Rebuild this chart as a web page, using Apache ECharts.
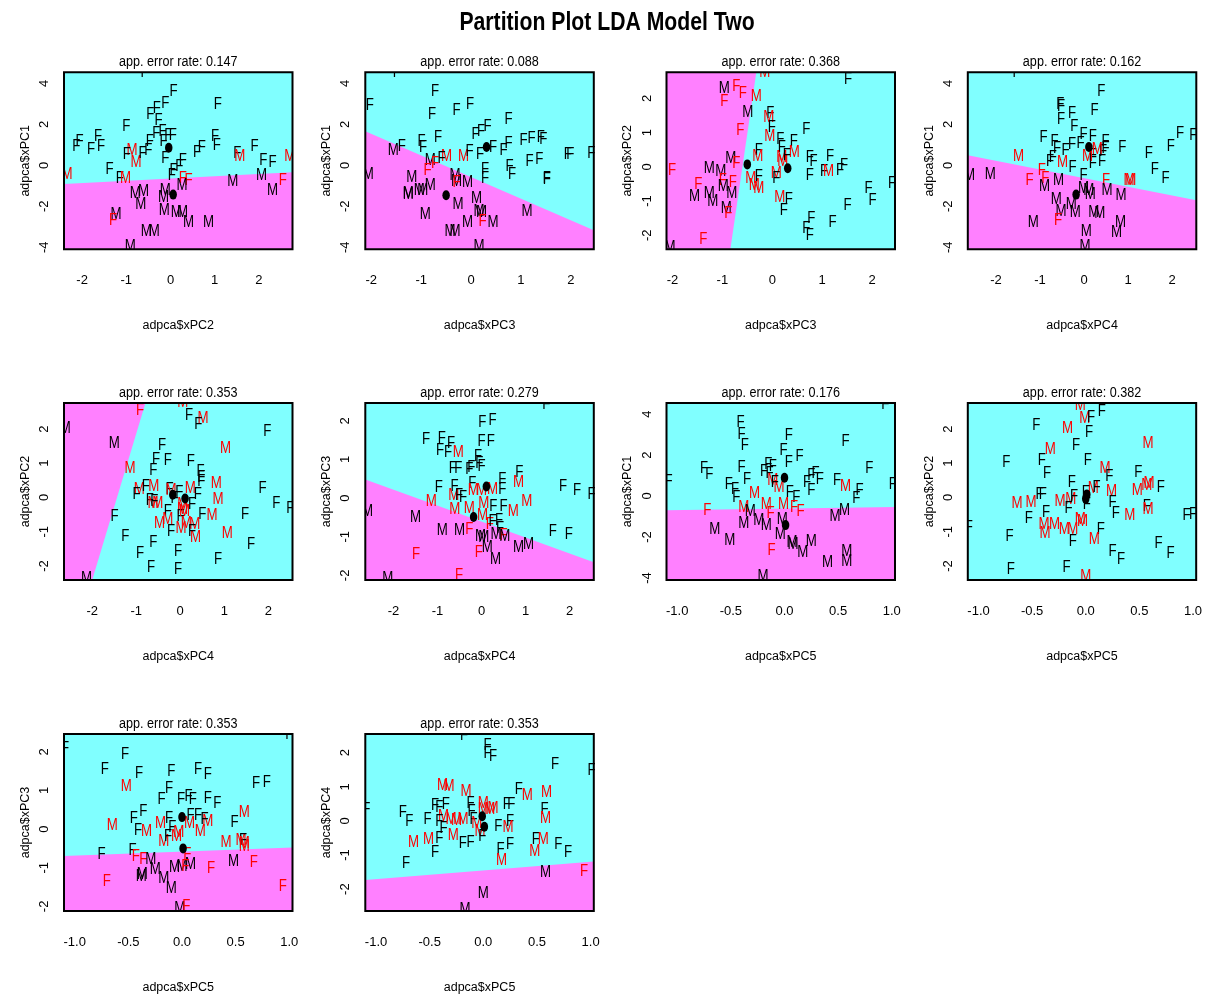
<!DOCTYPE html>
<html><head><meta charset="utf-8">
<script src="https://cdn.jsdelivr.net/npm/echarts@6/dist/echarts.min.js"></script>
<style>html,body{margin:0;padding:0;background:#fff}#c{width:1205px;height:998px}</style>
</head><body><div id="c"></div>
<script>
// ---------------- DATA ----------------
const mainTitle = 'Partition Plot LDA Model Two';
const panelX = ['PC2','PC3','PC3','PC4','PC4','PC4','PC5','PC5','PC5','PC5'];
const panelY = ['PC1','PC1','PC2','PC1','PC2','PC3','PC1','PC2','PC3','PC4'];
const errorRates = ['0.147','0.088','0.368','0.162','0.353','0.279','0.176','0.382','0.353','0.353'];
const rangePC1 = [-4.10, 4.54];
const rangePC2 = [-2.41, 2.76];
const rangePC3 = [-2.12, 2.46];
const rangePC4 = [-2.64, 2.55];
const rangePC5 = [-1.10, 1.03];
const ticksPC1 = [-4, -2, 0, 2, 4];
const ticksPC2 = [-2, -1, 0, 1, 2];
const ticksPC3 = [-2, -1, 0, 1, 2];
const ticksPC4 = [-2, -1, 0, 1, 2];
const ticksPC5 = [-1, -0.5, 0, 0.5, 1];

// magenta (group M) regions of each partition, in data units; cyan elsewhere
const magenta1 = [[-2.41,-0.91],[2.76,-0.34],[2.76,-4.10],[-2.41,-4.10]];
const magenta2 = [[-2.12,1.66],[2.46,-3.17],[2.46,-4.10],[-2.12,-4.10]];
const magenta3 = [[-2.12,2.76],[-0.32,2.76],[-0.84,-2.41],[-2.12,-2.41]];
const magenta4 = [[-2.64,0.49],[2.55,-1.71],[2.55,-4.10],[-2.64,-4.10]];
const magenta5 = [[-2.64,2.76],[-0.79,2.76],[-2.00,-2.41],[-2.64,-2.41]];
const magenta6 = [[-2.64,0.48],[2.55,-1.66],[2.55,-2.12],[-2.64,-2.12]];
const magenta7 = [[-1.10,-0.70],[1.03,-0.54],[1.03,-4.10],[-1.10,-4.10]];
const magenta8 = [];
const magenta9 = [[-1.10,-0.70],[1.03,-0.48],[1.03,-2.12],[-1.10,-2.12]];
const magenta10 = [[-1.10,-1.73],[1.03,-1.19],[1.03,-2.63],[-1.10,-2.63]];

// group means [F, M]
const means1 = [[-0.04,0.86],[0.06,-1.43]];
const means2 = [[0.31,0.89],[-0.50,-1.46]];
const means3 = [[0.31,-0.04],[-0.50,0.07]];
const means4 = [[0.11,0.89],[-0.18,-1.43]];
const means5 = [[0.11,-0.03],[-0.17,0.08]];
const means6 = [[0.11,0.30],[-0.18,-0.49]];
const means7 = [[0.00,0.89],[0.01,-1.42]];
const means8 = [[0.00,-0.04],[0.01,0.09]];
const means9 = [[0.00,0.31],[0.01,-0.50]];
const means10 = [[-0.01,0.14],[0.01,-0.17]];

// points: [x, y, sex, misclassified]
const pts1 = [[-0.59,4.54,'F',0],[0.07,3.58,'F',0],[1.07,2.98,'F',0],[-0.12,3.00,'F',0],[-0.31,2.76,'F',0],[-0.46,2.49,'F',0],[-0.27,2.20,'F',0],[-1.00,1.90,'F',0],[-0.32,1.54,'F',0],[-0.18,1.63,'F',0],[-0.05,1.46,'F',0],[0.05,1.46,'F',0],[-0.16,1.14,'F',0],[-1.64,1.41,'F',0],[-2.06,1.14,'F',0],[-2.13,0.89,'F',0],[-1.80,0.78,'F',0],[-1.57,0.93,'F',0],[-0.87,0.73,'M',1],[-0.78,0.13,'M',1],[-0.99,0.52,'F',0],[-0.63,0.57,'F',0],[-0.50,0.73,'F',0],[-0.47,1.14,'F',0],[-0.12,0.33,'F',0],[0.28,0.21,'F',0],[0.20,-0.05,'F',0],[0.07,-0.24,'F',0],[0.03,-0.49,'F',0],[0.60,0.60,'F',0],[0.71,0.86,'F',0],[1.01,1.38,'F',0],[1.05,0.98,'F',0],[1.90,0.89,'F',0],[1.51,0.57,'F',0],[1.57,0.41,'M',1],[2.10,0.24,'F',0],[2.31,0.11,'F',0],[2.70,0.41,'M',1],[-2.34,-0.44,'M',1],[-1.38,-0.21,'F',0],[-1.15,-0.65,'F',0],[-1.02,-0.65,'M',1],[0.28,-0.65,'F',1],[0.41,-0.76,'F',1],[0.26,-0.98,'M',0],[1.41,-0.81,'M',0],[2.06,-0.49,'M',0],[2.54,-0.73,'F',1],[2.31,-1.25,'M',0],[-0.80,-1.38,'M',0],[-0.61,-1.30,'M',0],[-0.67,-1.90,'M',0],[-0.12,-1.22,'M',0],[-0.16,-1.59,'M',0],[-0.14,-2.20,'M',0],[0.13,-2.33,'M',0],[0.27,-2.33,'M',0],[0.41,-2.81,'M',0],[0.86,-2.81,'M',0],[-1.23,-2.39,'M',0],[-1.30,-2.72,'F',1],[-0.55,-3.25,'M',0],[-0.37,-3.25,'M',0],[-0.91,-3.98,'M',0]];
const pts2 = [[-1.49,4.54,'F',0],[-0.72,3.58,'F',0],[-0.02,2.98,'F',0],[-2.03,2.93,'F',0],[-0.78,2.47,'F',0],[-0.29,2.68,'F',0],[0.75,2.24,'F',0],[0.33,1.90,'F',0],[0.20,1.66,'F',0],[0.09,1.50,'F',0],[-0.66,1.33,'F',0],[-0.99,1.14,'F',0],[-0.96,0.85,'F',0],[-1.56,0.73,'M',0],[-1.39,0.93,'F',0],[-0.49,0.41,'M',1],[-0.15,0.44,'M',1],[-0.03,0.65,'F',0],[0.18,0.54,'F',0],[0.44,0.86,'F',0],[0.65,0.73,'F',0],[0.75,1.06,'F',0],[1.05,1.19,'F',0],[1.21,1.30,'F',0],[1.40,1.35,'F',0],[1.45,1.25,'F',0],[1.17,0.16,'F',0],[1.37,0.28,'F',0],[1.94,0.52,'F',0],[1.99,0.52,'F',0],[2.41,0.57,'F',0],[1.52,-0.70,'F',0],[1.52,-0.66,'F',0],[0.28,-0.21,'F',0],[0.28,-0.65,'F',0],[0.77,-0.08,'F',0],[0.82,-0.44,'F',0],[-0.82,0.24,'M',0],[-0.72,0.08,'F',1],[-0.87,-0.24,'F',1],[-0.59,0.33,'F',0],[-2.06,-0.44,'M',0],[-1.19,-0.62,'M',0],[-1.04,-1.22,'M',0],[-0.97,-1.22,'M',0],[-0.82,-0.98,'M',0],[-1.26,-1.41,'M',0],[-1.26,-1.36,'M',0],[-0.32,-0.49,'M',0],[-0.29,-0.81,'M',0],[-0.29,-0.86,'F',1],[-0.07,-0.86,'M',0],[0.11,-1.63,'M',0],[-0.26,-1.90,'M',0],[-0.92,-2.39,'M',0],[0.16,-2.28,'M',0],[0.21,-2.33,'M',0],[0.23,-2.76,'F',1],[0.44,-2.81,'M',0],[-0.07,-2.81,'M',0],[-0.42,-3.25,'M',0],[-0.32,-3.25,'M',0],[0.16,-3.95,'M',0],[1.12,-2.24,'M',0]];
const pts3 = [[-0.15,2.76,'M',1],[1.52,2.56,'F',0],[-0.96,2.29,'M',0],[-0.72,2.34,'F',1],[-0.59,2.15,'F',1],[-0.96,1.90,'F',1],[-0.32,2.06,'M',1],[-0.49,1.57,'M',0],[-0.04,1.56,'F',0],[-0.07,1.43,'M',1],[-0.01,1.14,'F',0],[-0.05,0.88,'M',1],[-0.64,1.06,'F',1],[0.68,1.09,'F',0],[0.16,0.79,'F',0],[0.19,0.57,'F',0],[0.43,0.75,'F',0],[-0.27,0.46,'F',0],[-0.29,0.30,'M',1],[0.19,0.28,'M',1],[0.44,0.41,'M',1],[0.21,0.14,'M',1],[0.29,0.33,'F',0],[-0.83,0.25,'M',0],[-0.72,0.09,'F',1],[-1.26,-0.06,'M',0],[-1.03,-0.13,'M',0],[-2.01,-0.11,'F',1],[-1.48,-0.51,'F',1],[-0.99,-0.40,'F',1],[-0.79,-0.45,'F',1],[-0.98,-0.57,'M',0],[-0.81,-0.79,'M',0],[-1.26,-0.79,'M',0],[-1.56,-0.88,'M',0],[-1.19,-1.03,'M',0],[-0.92,-1.22,'M',0],[-0.88,-1.37,'F',1],[-1.38,-2.13,'F',1],[-2.05,-2.36,'M',0],[0.75,0.26,'F',0],[0.83,0.14,'F',0],[1.16,0.30,'F',0],[1.04,-0.13,'F',0],[1.13,-0.13,'M',1],[1.36,-0.11,'F',0],[1.44,0.04,'F',0],[0.75,-0.25,'F',0],[2.40,-0.50,'F',0],[1.93,-0.64,'F',0],[2.01,-0.98,'F',0],[1.51,-1.13,'F',0],[0.33,-0.95,'F',0],[0.15,-0.91,'M',1],[0.23,-1.29,'F',0],[0.78,-1.51,'F',0],[0.68,-1.81,'F',0],[0.75,-2.00,'F',0],[1.21,-1.64,'F',0],[-0.43,-0.35,'M',1],[-0.36,-0.54,'M',1],[-0.27,-0.64,'M',1],[0.08,-0.20,'M',1],[0.08,-0.35,'F',0],[-0.27,-0.30,'F',0]];
const pts4 = [[-1.53,4.54,'F',0],[0.39,3.58,'F',0],[-0.54,2.96,'F',0],[-0.52,2.85,'F',0],[0.24,2.68,'F',0],[-0.27,2.52,'F',0],[-0.52,2.24,'F',0],[-0.22,1.90,'F',0],[-0.92,1.35,'F',0],[-0.01,1.50,'F',0],[0.20,1.41,'F',0],[-0.67,1.14,'F',0],[-0.27,1.01,'F',0],[-0.08,1.06,'F',0],[-0.61,0.81,'F',0],[-0.42,0.73,'F',0],[0.49,1.14,'F',0],[0.49,0.81,'F',0],[0.43,0.65,'F',0],[0.87,0.86,'F',0],[0.20,0.49,'F',0],[0.41,0.16,'F',0],[0.20,0.08,'F',0],[0.30,0.78,'M',1],[0.08,0.44,'M',1],[-1.49,0.41,'M',1],[-0.49,0.11,'M',1],[-0.71,0.37,'F',0],[-0.77,0.16,'F',0],[-0.26,-0.11,'F',0],[-0.01,-0.49,'F',0],[1.47,0.57,'F',0],[1.61,-0.21,'F',0],[1.85,-0.65,'F',0],[1.97,0.93,'F',0],[2.18,1.54,'F',0],[2.48,1.46,'F',0],[-2.60,-0.49,'M',0],[-2.13,-0.44,'M',0],[-1.24,-0.76,'F',1],[-0.96,-0.24,'F',1],[-0.88,-0.65,'F',1],[-0.90,-1.06,'M',0],[-0.58,-0.76,'M',0],[0.50,-0.76,'F',1],[1.02,-0.76,'M',1],[1.06,-0.73,'M',1],[0.52,-1.25,'M',0],[0.84,-1.46,'M',0],[-0.01,-1.14,'M',0],[0.11,-1.22,'M',0],[0.14,-1.41,'M',0],[-0.63,-1.66,'M',0],[-0.29,-1.90,'M',0],[-0.52,-2.28,'M',0],[-0.20,-2.33,'M',0],[0.22,-2.33,'M',0],[0.36,-2.36,'M',0],[-0.59,-2.72,'F',1],[-1.15,-2.81,'M',0],[0.05,-3.25,'M',0],[0.83,-2.81,'M',0],[0.74,-3.30,'M',0],[0.02,-3.95,'M',0]];
const pts5 = [[0.06,2.76,'M',1],[-0.91,2.53,'F',1],[0.20,2.38,'F',0],[0.52,2.31,'M',1],[0.41,2.12,'F',0],[-2.61,2.02,'M',0],[1.98,1.92,'F',0],[-1.50,1.58,'M',0],[-0.41,1.53,'F',0],[1.03,1.44,'M',1],[-0.55,1.11,'F',0],[-0.28,1.08,'F',0],[0.24,1.05,'F',0],[-1.14,0.85,'M',1],[-0.61,0.79,'F',0],[0.46,0.76,'F',0],[0.48,0.59,'F',0],[0.48,0.47,'F',0],[0.82,0.40,'M',1],[0.86,-0.05,'M',1],[1.87,0.27,'F',0],[2.18,-0.19,'F',0],[2.50,-0.31,'F',0],[1.47,-0.50,'F',0],[0.72,-0.53,'M',1],[0.50,-0.49,'F',0],[1.07,-1.04,'M',1],[1.61,-1.38,'F',0],[0.86,-1.80,'F',0],[-0.05,-1.57,'F',0],[-0.05,-2.11,'F',0],[-0.66,-2.06,'F',0],[-0.91,-1.64,'F',0],[-0.61,-1.31,'F',0],[-1.25,-1.14,'F',0],[-1.49,-0.55,'F',0],[-2.13,-2.38,'M',0],[-0.93,0.22,'M',1],[-0.99,0.08,'F',0],[-0.78,0.32,'F',0],[-0.60,0.32,'M',1],[-0.69,-0.09,'F',0],[-0.62,-0.17,'M',1],[-0.51,-0.17,'M',1],[-0.24,0.22,'F',0],[-0.21,0.20,'M',1],[-0.02,0.15,'F',0],[-0.13,-0.02,'F',0],[0.23,0.27,'M',1],[0.40,0.08,'F',0],[0.27,-0.21,'F',0],[0.06,-0.21,'M',1],[0.05,-0.36,'M',1],[-0.28,-0.41,'F',0],[-0.47,-0.75,'M',1],[-0.28,-0.65,'M',1],[0.01,-0.55,'F',0],[0.02,-0.92,'M',1],[0.14,-0.75,'M',1],[0.33,-0.80,'M',1],[0.35,-1.18,'M',1],[-0.21,-0.99,'F',0],[0.27,-0.99,'F',0],[-0.59,-0.12,'F',0],[0.10,-0.41,'M',1]];
const pts6 = [[1.47,2.42,'F',0],[0.02,1.95,'F',0],[0.25,2.00,'F',0],[-1.26,1.51,'F',0],[-0.90,1.54,'F',0],[-0.69,1.41,'F',0],[-0.94,1.22,'F',0],[-0.76,1.17,'F',0],[-0.53,1.17,'M',1],[0.00,1.45,'F',0],[0.21,1.45,'F',0],[-0.08,1.08,'F',0],[-0.05,0.89,'F',0],[-0.65,0.76,'F',0],[-0.53,0.76,'F',0],[-0.28,0.73,'F',0],[-0.23,0.79,'F',0],[0.00,0.82,'F',0],[0.86,0.67,'F',0],[0.84,0.41,'M',1],[-0.97,0.27,'F',0],[-0.61,0.29,'F',0],[-0.63,0.07,'M',1],[-0.51,0.07,'F',0],[-0.42,0.01,'F',0],[-0.21,0.37,'F',0],[-0.19,0.20,'M',1],[0.00,0.20,'M',1],[0.25,0.22,'M',1],[0.47,0.48,'F',0],[0.47,0.22,'F',0],[1.03,-0.08,'M',1],[-1.14,-0.08,'M',1],[-0.61,-0.30,'M',1],[-0.28,-0.28,'M',1],[0.05,-0.15,'M',1],[0.27,-0.23,'F',0],[0.50,-0.22,'F',0],[0.72,-0.34,'M',1],[0.02,-0.45,'M',1],[-0.28,-0.81,'F',1],[0.19,-0.68,'F',1],[0.25,-0.62,'F',0],[0.40,-0.58,'F',0],[0.42,-0.79,'F',0],[0.50,-0.97,'F',1],[0.53,-0.99,'M',0],[0.33,-0.94,'M',0],[-0.02,-0.99,'M',0],[0.05,-1.01,'M',0],[0.13,-1.27,'M',0],[-0.06,-1.40,'F',1],[0.32,-1.59,'M',0],[0.84,-1.27,'M',0],[1.07,-1.20,'M',0],[1.62,-0.88,'F',0],[1.98,-0.94,'F',0],[1.85,0.29,'F',0],[2.17,0.20,'F',0],[2.50,0.09,'F',0],[-2.59,-0.36,'M',0],[-1.50,-0.51,'M',0],[-0.89,-0.84,'M',0],[-0.50,-0.84,'M',0],[-1.49,-1.46,'F',1],[-0.51,-2.00,'F',1],[-2.13,-2.09,'M',0]];
const pts7 = [[0.94,4.45,'F',0],[-0.41,3.58,'F',0],[-0.40,3.00,'F',0],[-0.37,2.47,'F',0],[0.04,2.96,'F',0],[0.57,2.65,'F',0],[-0.01,2.24,'F',0],[0.14,1.92,'F',0],[0.04,1.63,'F',0],[-0.15,1.54,'F',0],[-0.11,1.43,'F',0],[-0.40,1.38,'F',0],[-0.75,1.33,'F',0],[-0.70,1.06,'F',0],[-0.19,1.17,'F',0],[-0.14,1.11,'F',0],[-0.35,0.78,'F',0],[-0.11,0.73,'M',1],[-0.05,0.41,'M',1],[-0.09,0.65,'F',0],[-0.52,0.57,'F',0],[-0.46,0.33,'F',0],[-0.45,-0.08,'F',0],[-0.28,0.13,'M',1],[0.05,0.16,'F',0],[0.11,-0.08,'F',0],[0.25,0.98,'F',0],[0.29,1.09,'F',0],[0.33,0.78,'F',0],[0.21,0.65,'F',0],[0.25,0.24,'F',0],[0.49,0.73,'F',0],[0.57,0.46,'M',1],[0.70,0.24,'F',0],[0.67,-0.13,'F',0],[0.79,1.33,'F',0],[1.01,0.57,'F',0],[-1.08,0.68,'F',0],[-0.72,-0.73,'F',1],[-0.38,-0.57,'M',1],[-0.32,-0.78,'M',0],[-0.17,-0.41,'M',1],[-0.13,-0.85,'F',1],[-0.01,-0.41,'M',1],[0.09,-0.57,'F',1],[0.15,-0.78,'F',1],[-0.38,-1.33,'M',0],[-0.24,-1.22,'M',0],[-0.17,-1.46,'M',0],[-0.02,-1.14,'M',0],[-0.04,-1.87,'M',0],[-0.65,-1.63,'M',0],[-0.51,-2.20,'M',0],[0.07,-2.28,'M',0],[0.08,-2.36,'M',0],[0.17,-2.76,'M',0],[0.25,-2.24,'M',0],[0.47,-1.01,'M',0],[0.56,-0.73,'M',0],[0.40,-3.25,'M',0],[0.58,-2.73,'M',0],[0.58,-3.22,'M',0],[-0.12,-2.68,'F',1],[-0.20,-3.95,'M',0]];
const pts8 = [[-0.05,2.67,'M',1],[0.15,2.50,'F',0],[-0.01,2.31,'M',1],[0.05,2.34,'F',0],[-0.46,2.09,'F',0],[-0.17,2.02,'M',1],[0.03,1.90,'F',0],[-0.33,1.41,'M',1],[-0.09,1.51,'F',0],[-0.74,1.02,'F',0],[-0.41,1.08,'F',0],[0.02,1.07,'F',0],[-0.36,0.69,'F',0],[0.18,0.85,'M',1],[0.22,0.61,'F',0],[0.58,1.58,'M',1],[0.49,0.73,'F',0],[0.48,0.20,'M',1],[0.57,0.34,'M',1],[0.59,0.40,'M',1],[0.70,0.29,'F',0],[0.24,0.17,'M',1],[-0.13,0.44,'F',0],[-0.43,0.08,'F',0],[-0.40,0.08,'F',0],[-0.64,-0.18,'M',1],[-0.51,-0.15,'M',1],[-0.24,-0.12,'M',1],[-0.14,-0.07,'M',1],[-0.11,0.03,'F',0],[-0.16,-0.31,'F',0],[0.07,0.27,'M',1],[0.10,0.30,'F',0],[0.25,-0.15,'F',0],[0.28,-0.48,'F',0],[0.41,-0.54,'M',1],[0.57,-0.26,'F',0],[0.58,-0.36,'M',1],[0.94,-0.54,'F',0],[1.00,-0.49,'F',0],[-1.09,-0.89,'F',0],[-0.53,-0.63,'F',0],[-0.37,-0.44,'F',0],[-0.39,-0.80,'M',1],[-0.29,-0.80,'M',1],[-0.38,-1.04,'M',1],[-0.20,-0.94,'M',1],[-0.12,-0.94,'M',1],[-0.05,-0.65,'M',1],[-0.03,-0.70,'M',1],[0.14,-0.94,'F',0],[0.08,-1.22,'M',1],[-0.12,-1.30,'F',0],[-0.71,-1.13,'F',0],[0.25,-1.57,'F',0],[0.33,-1.80,'F',0],[0.68,-1.36,'F',0],[0.79,-1.64,'F',0],[-0.70,-2.12,'F',0],[-0.18,-2.06,'F',0],[0.00,-2.30,'M',1],[0.01,-0.20,'F',0],[0.00,0.15,'F',0]];
const pts9 = [[1.00,2.44,'F',0],[-1.09,2.09,'F',0],[-0.53,1.94,'F',0],[-0.72,1.53,'F',0],[-0.40,1.43,'F',0],[-0.10,1.49,'F',0],[0.15,1.53,'F',0],[0.24,1.40,'F',0],[0.69,1.18,'F',0],[0.79,1.20,'F',0],[-0.52,1.11,'M',1],[-0.12,1.05,'F',0],[-0.19,0.77,'F',0],[-0.01,0.75,'F',0],[0.06,0.85,'F',0],[0.10,0.77,'F',0],[0.24,0.79,'F',0],[0.33,0.67,'F',0],[-0.65,0.10,'M',1],[-0.45,0.28,'F',0],[-0.36,0.45,'F',0],[-0.41,-0.03,'F',0],[-0.33,-0.07,'M',1],[-0.20,0.13,'M',1],[-0.12,0.28,'F',0],[-0.09,0.04,'F',0],[-0.05,-0.20,'M',1],[-0.17,-0.33,'M',1],[-0.13,-0.20,'F',0],[0.07,0.15,'M',1],[0.08,0.34,'F',0],[0.15,0.36,'F',0],[0.17,-0.07,'M',1],[0.24,0.19,'M',1],[0.21,0.25,'F',0],[0.58,0.42,'M',1],[0.49,0.16,'F',0],[0.41,-0.35,'M',1],[0.55,-0.29,'M',1],[0.58,-0.46,'M',1],[0.57,-0.29,'F',0],[-0.75,-0.65,'F',0],[-0.46,-0.56,'F',0],[-0.43,-0.72,'F',1],[-0.36,-0.80,'F',1],[-0.29,-0.80,'M',0],[-0.25,-1.05,'M',0],[0.05,-0.67,'F',1],[-0.07,-0.99,'M',0],[0.00,-0.96,'M',0],[0.08,-0.91,'M',0],[0.03,-0.98,'F',1],[0.27,-1.02,'F',1],[0.48,-0.85,'M',0],[0.67,-0.87,'F',1],[-0.38,-1.22,'M',0],[-0.37,-1.19,'M',0],[-0.17,-1.28,'M',0],[-0.10,-1.54,'M',0],[-0.70,-1.37,'F',1],[0.94,-1.48,'F',1],[-0.02,-2.06,'M',0],[0.04,-2.01,'F',1],[-0.03,-0.10,'M',1],[0.58,-0.37,'M',1]];
const pts10 = [[-0.18,2.49,'F',0],[0.04,2.22,'F',0],[0.04,1.98,'F',0],[0.09,1.88,'F',0],[0.67,1.64,'F',0],[1.01,1.49,'F',0],[-0.38,1.05,'M',1],[-0.32,1.02,'M',1],[-0.16,0.86,'M',1],[0.33,0.91,'F',0],[0.41,0.73,'M',1],[0.59,0.83,'M',1],[-1.09,0.34,'F',0],[-0.75,0.24,'F',0],[-0.69,-0.02,'F',0],[-0.52,0.05,'F',0],[-0.45,0.44,'F',0],[-0.41,0.40,'F',0],[-0.35,0.47,'F',0],[-0.37,0.13,'M',1],[-0.41,-0.02,'F',0],[-0.37,-0.21,'F',0],[-0.25,0.01,'M',1],[-0.19,0.03,'M',1],[-0.12,0.52,'F',0],[-0.11,0.27,'F',0],[0.00,0.52,'M',1],[0.06,0.34,'M',1],[0.09,0.37,'M',1],[-0.09,0.03,'F',0],[-0.06,-0.07,'M',1],[-0.03,-0.31,'M',1],[-0.01,-0.46,'F',0],[0.14,-0.17,'F',0],[0.22,0.47,'F',0],[0.26,0.47,'F',0],[0.25,-0.02,'F',0],[0.23,-0.19,'M',1],[0.25,-0.70,'F',0],[0.16,-0.83,'F',0],[0.17,-1.16,'M',1],[-0.28,-0.44,'M',1],[-0.51,-0.54,'M',1],[-0.65,-0.63,'M',1],[-0.41,-0.51,'F',0],[-0.45,-0.93,'F',0],[-0.72,-1.24,'F',0],[-0.19,-0.67,'F',0],[-0.12,-0.63,'F',0],[0.57,0.34,'F',0],[0.58,0.08,'M',1],[0.49,-0.54,'F',0],[0.56,-0.56,'M',1],[0.48,-0.90,'M',1],[0.70,-0.70,'F',0],[0.79,-0.93,'F',0],[0.58,-1.50,'M',0],[0.94,-1.48,'F',1],[0.00,-2.12,'M',0],[-0.17,-2.60,'M',0],[0.00,0.32,'M',1],[-0.30,0.03,'M',1]];

// ---------------- BUILD ----------------
const ranges = {PC1:rangePC1, PC2:rangePC2, PC3:rangePC3, PC4:rangePC4, PC5:rangePC5};
const ticks = {PC1:ticksPC1, PC2:ticksPC2, PC3:ticksPC3, PC4:ticksPC4, PC5:ticksPC5};
const magentas = [magenta1,magenta2,magenta3,magenta4,magenta5,magenta6,magenta7,magenta8,magenta9,magenta10];
const means = [means1,means2,means3,means4,means5,means6,means7,means8,means9,means10];
const pointsAll = [pts1,pts2,pts3,pts4,pts5,pts6,pts7,pts8,pts9,pts10];

const FONT = "'Liberation Sans',Arial,Helvetica,sans-serif";
const CYAN = '#80FFFF', MAGENTA = '#FF80FF';
const colLeft = [64, 365.3, 666.5, 967.8];
const rowTop = [72.3, 403, 734];
const GW = 228.5, GH = 177;

const grids = [], xAxes = [], yAxes = [], series = [];
const graphics = [{type: 'text', x: 607, y: 22.5, scaleX: 0.8, silent: true,
  style: {text: mainTitle, fontFamily: FONT, fontWeight: 'bold', fontSize: 26.5, fill: '#000',
    align: 'center', verticalAlign: 'middle'}}];

function fmt(v, pc){ return pc === 'PC5' ? v.toFixed(1) : String(v); }

for (let i = 0; i < 10; i++) {
  const c = i % 4, r = Math.floor(i / 4);
  const px = panelX[i], py = panelY[i];
  grids.push({left: colLeft[c], top: rowTop[r], width: GW, height: GH, containLabel: false});
  graphics.push({type: 'text', x: colLeft[c] + GW / 2, y: rowTop[r] - 10, scaleX: 0.9, silent: true,
    style: {text: 'app. error rate: ' + errorRates[i], fontFamily: FONT, fontSize: 14, fill: '#000',
      align: 'center', verticalAlign: 'middle'}});
  xAxes.push({gridIndex: i, type: 'value', min: ranges[px][0], max: ranges[px][1],
    axisLine: {show: false}, splitLine: {show: false},
    axisTick: {show: true, length: 7, lineStyle: {color: '#000', width: 1}, customValues: ticks[px]},
    axisLabel: {customValues: ticks[px], margin: 25, color: '#000', fontFamily: FONT, fontSize: 13,
      formatter: (v) => fmt(v, px)},
    name: 'adpca$x' + px, nameLocation: 'middle', nameGap: 70,
    nameTextStyle: {fontFamily: FONT, fontSize: 12.5, color: '#000'}});
  yAxes.push({gridIndex: i, type: 'value', min: ranges[py][0], max: ranges[py][1],
    axisLine: {show: false}, splitLine: {show: false},
    axisTick: {show: true, length: 7, lineStyle: {color: '#000', width: 1}, customValues: ticks[py]},
    axisLabel: {customValues: ticks[py], rotate: 90, margin: 13, color: '#000', fontFamily: FONT, fontSize: 13,
      formatter: (v) => fmt(v, py)},
    name: 'adpca$x' + py, nameLocation: 'middle', nameGap: 32,
    nameTextStyle: {fontFamily: FONT, fontSize: 12.5, color: '#000'}});

  const mag = magentas[i];
  series.push({type: 'custom', coordinateSystem: 'cartesian2d', xAxisIndex: i, yAxisIndex: i, clip: true, z: 1,
    silent: true, data: [[ranges[px][0], ranges[py][0]]],
    renderItem: function (params, api) {
      const cs = params.coordSys;
      const children = [{type: 'rect', shape: {x: cs.x, y: cs.y, width: cs.width, height: cs.height}, style: {fill: CYAN}}];
      if (mag.length) {
        children.push({type: 'polygon', shape: {points: mag.map(p => api.coord(p))}, style: {fill: MAGENTA}});
      }
      return {type: 'group', children: children};
    }});

  const pts = pointsAll[i];
  series.push({type: 'custom', coordinateSystem: 'cartesian2d', xAxisIndex: i, yAxisIndex: i, clip: true, z: 3,
    silent: true, data: pts.map(p => [p[0], p[1]]),
    renderItem: function (params, api) {
      const d = pts[params.dataIndex];
      const pt = api.coord([d[0], d[1]]);
      return {type: 'text', x: pt[0], y: pt[1], scaleX: 0.83,
        style: {text: d[2], fill: d[3] ? '#FF0000' : '#000000', fontFamily: FONT, fontSize: 16,
          align: 'center', verticalAlign: 'middle'}};
    }});

  const mm = means[i];
  series.push({type: 'custom', coordinateSystem: 'cartesian2d', xAxisIndex: i, yAxisIndex: i, clip: true, z: 4,
    silent: true, data: mm.map(p => [p[0], p[1]]),
    renderItem: function (params, api) {
      const pt = api.coord([api.value(0), api.value(1)]);
      return {type: 'circle', x: pt[0], y: pt[1], scaleX: 0.75, shape: {cx: 0, cy: 0, r: 5}, style: {fill: '#000'}};
    }});

  series.push({type: 'custom', coordinateSystem: 'cartesian2d', xAxisIndex: i, yAxisIndex: i, clip: false, z: 5,
    silent: true, data: [[ranges[px][0], ranges[py][0]]],
    renderItem: function (params, api) {
      const cs = params.coordSys;
      return {type: 'rect', shape: {x: cs.x, y: cs.y, width: cs.width, height: cs.height},
        style: {fill: 'none', stroke: '#000', lineWidth: 2}};
    }});
}

const chart = echarts.init(document.getElementById('c'), null, {renderer: 'canvas'});
chart.setOption({backgroundColor: '#fff', animation: false, graphic: graphics, grid: grids,
  xAxis: xAxes, yAxis: yAxes, series: series, tooltip: {show: false}});
</script></body></html>
